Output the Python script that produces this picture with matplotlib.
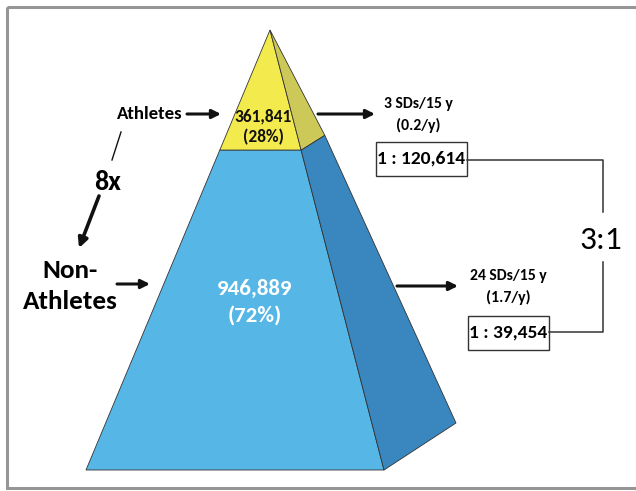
import matplotlib
matplotlib.use("Agg")
import matplotlib.pyplot as plt
from matplotlib.patches import Polygon, Rectangle

# data
groups = ["Athletes", "Non-\nAthletes"]
counts = ["361,841", "946,889"]
shares = [0.28, 0.72]
sd_rates = ["3 SDs/15 y\n(0.2/y)", "24 SDs/15 y\n(1.7/y)"]
risks = ["1 : 120,614", "1 : 39,454"]
ratio = "3:1"
fold = "8x"

plt.rcParams['font.family'] = ['Carlito', 'DejaVu Sans']

fig = plt.figure(figsize=(6.36, 4.91), dpi=100)
ax = fig.add_axes([0, 0, 1, 1])
ax.set_xlim(0, 636)
ax.set_ylim(491, 0)
ax.axis('off')

# frame
ax.add_patch(Rectangle((7, 7), 640, 481, fill=False, ec='#969696', lw=2.2))

# pyramid geometry (pixels)
apex = (270, 30)
bl, br, bb = (86, 470), (384, 470), (456, 423)
split = apex[1] + shares[0] * (bl[1] - apex[1]) - 3

def on_edge(p, q, y):
    t = (y - p[1]) / (q[1] - p[1])
    return (p[0] + t * (q[0] - p[0]), y)

fl = on_edge(apex, bl, split)
fr = on_edge(apex, br, split)
# back edge meets side split a bit higher
bk_t = (fr[0] - apex[0]) / (br[0] - apex[0])
bk = (apex[0] + bk_t * (bb[0] - apex[0]) + 4, apex[1] + bk_t * (bb[1] - apex[1]) - 2)

ec = '#333333'
ax.add_patch(Polygon([apex, fl, fr], closed=True, fc='#F3EA4D', ec=ec, lw=0.6))
ax.add_patch(Polygon([apex, fr, bk], closed=True, fc='#CDC958', ec=ec, lw=0.6))
ax.add_patch(Polygon([fl, bl, br, fr], closed=True, fc='#56B7E6', ec=ec, lw=0.6))
ax.add_patch(Polygon([fr, br, bb, bk], closed=True, fc='#3A86BE', ec=ec, lw=0.6))

# counts on pyramid
ax.text(263, 127, counts[0] + "\n(" + f"{shares[0]:.0%}" + ")", ha='center', va='center',
        fontsize=12.5, fontweight='bold', color='#111111', linespacing=1.3)
ax.text(255, 302, counts[1] + "\n(" + f"{shares[1]:.0%}" + ")", ha='center', va='center',
        fontsize=16.5, fontweight='bold', color='white', linespacing=1.4)

def arrow(x0, y0, x1, y1, lw=2.2, ms=13):
    ax.annotate("", xy=(x1, y1), xytext=(x0, y0),
                arrowprops=dict(arrowstyle='-|>', color='#111111', lw=lw,
                                mutation_scale=ms, shrinkA=0, shrinkB=0))

# left labels
ax.text(150, 114, groups[0], ha='center', va='center', fontsize=13.5, fontweight='bold')
arrow(187, 114, 221, 114)
ax.text(70, 286, groups[1], ha='center', va='center', fontsize=19.5, fontweight='bold',
        linespacing=1.45)
arrow(117, 284, 150, 284)
ax.plot([121, 112], [132, 160], color='#111111', lw=1)
ax.text(108, 182, fold, ha='center', va='center', fontsize=20, fontweight='bold')
arrow(99, 196, 79, 248, lw=2.6, ms=14)

# right side
arrow(318, 114, 375, 114)
ax.text(418, 115, sd_rates[0], ha='center', va='center', fontsize=11.3, fontweight='bold',
        linespacing=1.5)
arrow(397, 286, 458, 286)
ax.text(508, 287, sd_rates[1], ha='center', va='center', fontsize=11.3, fontweight='bold',
        linespacing=1.5)

ax.add_patch(Rectangle((376, 142), 91, 34, fill=False, ec='#333333', lw=1))
ax.text(421.5, 159, risks[0], ha='center', va='center', fontsize=14, fontweight='bold')
ax.add_patch(Rectangle((468, 316), 81, 34, fill=False, ec='#333333', lw=1))
ax.text(508.5, 333, risks[1], ha='center', va='center', fontsize=14, fontweight='bold')

ax.plot([467, 603, 603], [160, 160, 212], color='#333333', lw=1.1)
ax.plot([603, 603, 549], [262, 332, 332], color='#333333', lw=1.1)
ax.text(601, 240, ratio, ha='center', va='center', fontsize=24)

fig.savefig("out.png", dpi=100)
